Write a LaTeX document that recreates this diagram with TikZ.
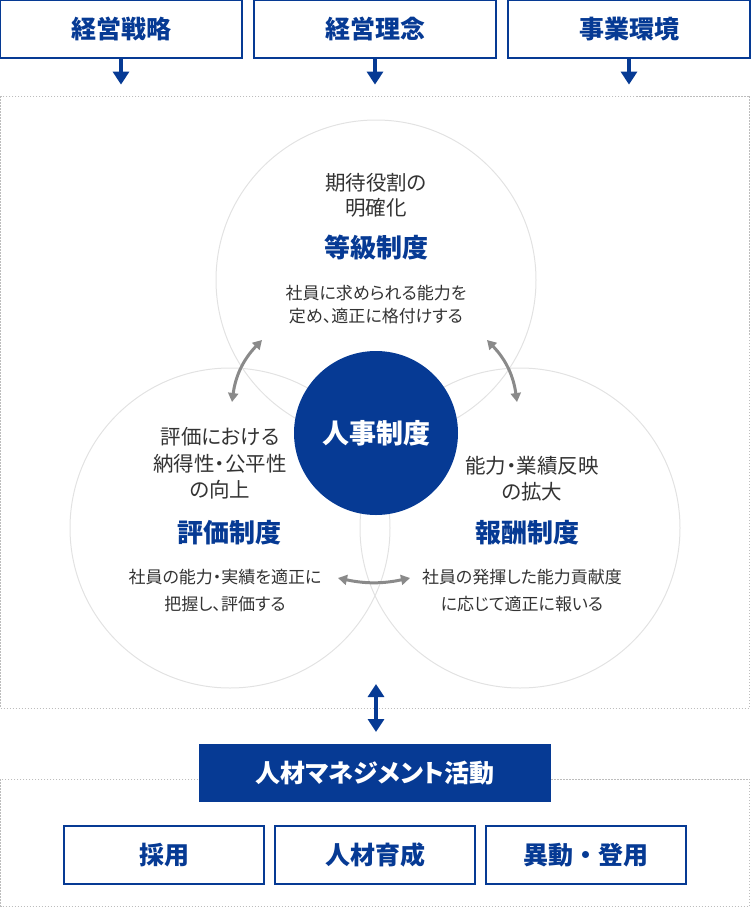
\documentclass[tikz,border=0pt]{standalone}
\usepackage{fontspec}
\setmainfont{Noto Sans CJK JP}[RawFeature=+palt]
\newfontfamily\widefont{Noto Sans CJK JP}
\usetikzlibrary{arrows.meta}

\definecolor{hrblue}{HTML}{063A94}
\definecolor{hrtext}{HTML}{333333}
\definecolor{hrring}{HTML}{E2E2E2}
\definecolor{hrgray}{HTML}{8A8A8A}
\definecolor{hrdots}{HTML}{BDBDBD}

\tikzset{
    outlinebox/.style={draw=hrblue, line width=1.2pt, fill=white, text=hrblue,
        font=\fontsize{25}{25}\selectfont\bfseries, inner sep=0pt, minimum height=58pt},
    ring/.style={circle, draw=hrring, line width=1pt, minimum size=320pt, inner sep=0pt},
    lead/.style={text=hrtext, align=center, font=\fontsize{20.5}{26}\selectfont},
    blurb/.style={text=hrtext, align=center, font=\fontsize{17}{23}\selectfont},
    sysname/.style={text=hrblue, font=\fontsize{26}{26}\selectfont\bfseries},
    dotbox/.style={draw=hrdots, line width=1pt, dash pattern=on 1.5pt off 1.5pt},
    bluearrow/.style={draw=hrblue, line width=4pt, -{Triangle[length=13pt, width=16pt]}},
    grayarrow/.style={draw=hrgray, line width=3pt, {Triangle[length=9pt, width=10pt]}-{Triangle[length=9pt, width=10pt]}}
}

\begin{document}
\begin{tikzpicture}[x=1pt, y=-1pt]
    \useasboundingbox (0, 0) rectangle (750, 908);

    % inputs on top
    \node[outlinebox, minimum width=242pt] (strategy) at (121, 29) {経営戦略};
    \node[outlinebox, minimum width=242pt] (philosophy) at (375, 29) {経営理念};
    \node[outlinebox, minimum width=242pt] (environment) at (629, 29) {事業環境};
    \foreach \b in {strategy, philosophy, environment} {
        \path (\b.south) ++(0, 26) coordinate (\b-tip);
        \draw[bluearrow] (\b.south) -- (\b-tip);
    }

    % HR system frame
    \draw[dotbox] (0.5, 96) rectangle (749.5, 708);
    \node[ring] (grade) at (376, 280) {};
    \node[ring] (evaluation) at (230, 528) {};
    \node[ring] (reward) at (520, 528) {};
    \node[circle, fill=hrblue, minimum size=164pt, inner sep=0pt, text=white,
        font=\fontsize{27}{27}\selectfont\bfseries] (hub) at (376, 433) {人事制度};

    \node[lead] (gradelead) at (376, 195.5) {期待役割の\\[-1pt]明確化};
    \node[sysname] (gradename) at (376, 248) {等級制度};
    \node[blurb] (gradetext) at (376, 304.5) {社員に求められる能力を\\定め、適正に格付けする};

    \node[lead] (evallead) at (220, 463.5) {評価における\\[0.5pt]納得性・公平性\\[0.5pt]の向上};
    \node[sysname] (evalname) at (229, 533) {評価制度};
    \node[blurb] (evaltext) at (225, 590.5) {社員の能力・実績を適正に\\[4pt]把握し、評価する};

    \node[lead] (rewardlead) at (532, 479) {能力・業績反映\\の拡大};
    \node[sysname] (rewardname) at (527, 533) {報酬制度};
    \node[blurb] (rewardtext) at (522, 590.5) {社員の発揮した能力貢献度\\[4pt]に応じて適正に報いる};

    % links between the three systems
    \coordinate (ge1) at (262, 340);
    \coordinate (ge2) at (232, 402);
    \coordinate (gr1) at (487, 340);
    \coordinate (gr2) at (517, 402);
    \coordinate (er1) at (338, 578);
    \coordinate (er2) at (410, 578);
    \draw[grayarrow] (ge1) to[bend right=18] (ge2);
    \draw[grayarrow] (gr1) to[bend left=18] (gr2);
    \draw[grayarrow] (er1) to[bend right=12] (er2);

    % HR management activities
    \draw[dotbox] (0.5, 779) rectangle (749.5, 906);
    \node[fill=hrblue, text=white, minimum width=352pt, minimum height=58pt, inner sep=0pt,
        font=\fontsize{25}{25}\selectfont\bfseries] (activity) at (375, 773) {人材マネジメント活動};
    \coordinate (frametop) at (376, 684);
    \coordinate (activitytop) at (376, 732);
    \draw[draw=hrblue, line width=4pt, {Triangle[length=13pt, width=16pt]}-{Triangle[length=13pt, width=16pt]}]
        (frametop) -- (activitytop);

    \node[outlinebox, minimum width=200pt] (hiring) at (164, 855) {採用};
    \node[outlinebox, minimum width=200pt] (training) at (375, 855) {人材育成};
    \node[outlinebox, minimum width=200pt] (transfer) at (586, 855) {\widefont 異動・登用};
\end{tikzpicture}
\end{document}
